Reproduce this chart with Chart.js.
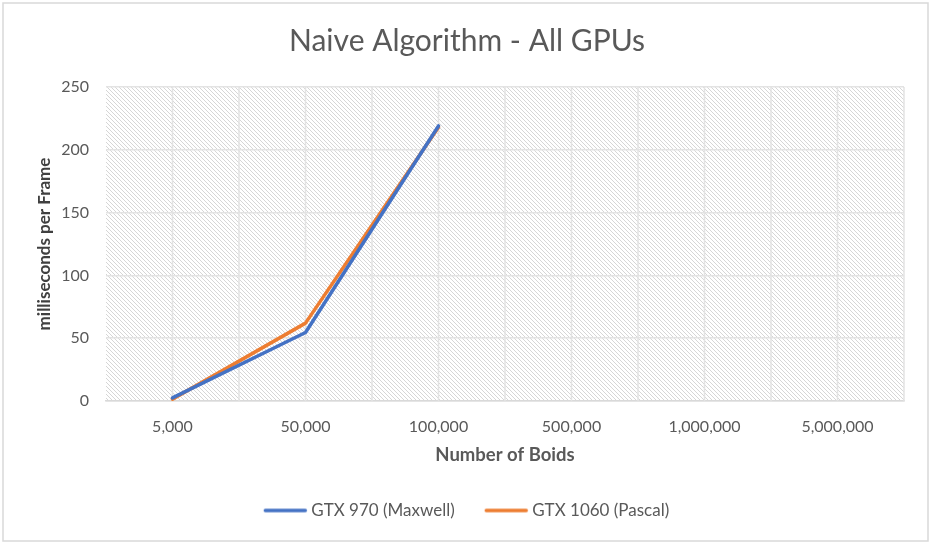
<!DOCTYPE html>
<html>
<head>
<meta charset="utf-8">
<script src="https://cdn.jsdelivr.net/npm/chart.js@4"></script>
<style>
html,body{margin:0;padding:0;background:#fff;}
#wrap{width:933px;height:548px;position:relative;}
</style>
</head>
<body>
<div id="wrap"><canvas id="c" width="933" height="548"></canvas></div>
<script>
const categories = ["5,000", "50,000", "100,000", "500,000", "1,000,000", "5,000,000"];
const gtx970 = [2.5, 54.5, 219, null, null, null];
const gtx1060 = [1.5, 62, 218, null, null, null];
const yTicks = [0, 50, 100, 150, 200, 250];

function makePattern(ctx) {
  const p = document.createElement('canvas');
  p.width = 4; p.height = 4;
  const g = p.getContext('2d');
  g.fillStyle = '#ffffff';
  g.fillRect(0, 0, 4, 4);
  g.fillStyle = '#d6d6d6';
  for (let i = 0; i < 4; i++) g.fillRect(i, i, 1, 1);
  return ctx.createPattern(p, 'repeat');
}

// legend sample: box width 38, image 58 wide centred on the box; line overhangs right by ~3.5px
function legendLine(color) {
  const c = document.createElement('canvas');
  c.width = 58; c.height = 8;
  const g = c.getContext('2d');
  g.strokeStyle = color;
  g.lineWidth = 3.5;
  g.lineCap = 'round';
  g.beginPath(); g.moveTo(10.5, 4); g.lineTo(50.5, 4); g.stroke();
  return c;
}

const bgPlugin = {
  id: 'bg',
  beforeDraw(chart) {
    const ctx = chart.ctx;
    ctx.save();
    ctx.fillStyle = '#fff';
    ctx.fillRect(0, 0, chart.width, chart.height);
    ctx.strokeStyle = '#d9d9d9';
    ctx.lineWidth = 1.5;
    ctx.strokeRect(3, 3, 925, 538);
    const a = chart.chartArea;
    ctx.fillStyle = makePattern(ctx);
    ctx.fillRect(a.left, a.top, a.right - a.left, a.bottom - a.top);
    ctx.restore();
  }
};

const font = "Lato, 'Open Sans', sans-serif";

new Chart(document.getElementById('c'), {
  type: 'line',
  data: {
    labels: categories,
    datasets: [
      { label: 'GTX 970 (Maxwell)', data: gtx970, borderColor: '#4472C4', backgroundColor: '#4472C4', borderWidth: 3.5, pointRadius: 0, pointStyle: legendLine('#4472C4'), borderCapStyle: 'round', borderJoinStyle: 'round', tension: 0 },
      { label: 'GTX 1060 (Pascal)', data: gtx1060, borderColor: '#ED7D31', backgroundColor: '#ED7D31', borderWidth: 3.5, pointRadius: 0, pointStyle: legendLine('#ED7D31'), borderCapStyle: 'round', borderJoinStyle: 'round', tension: 0 }
    ]
  },
  options: {
    responsive: false,
    animation: false,
    spanGaps: false,
    layout: { padding: { left: 25, right: 24, top: 0, bottom: 19 } },
    plugins: {
      title: {
        display: true,
        text: 'Naive Algorithm - All GPUs',
        color: '#595959',
        font: { family: font, size: 30, weight: 'normal' },
        padding: { top: 23, bottom: 28 }
      },
      legend: {
        position: 'bottom',
        labels: {
          color: '#595959',
          font: { family: font, size: 17 },
          usePointStyle: true,
          pointStyleWidth: 38,
          padding: 31
        }
      },
      tooltip: { enabled: false }
    },
    scales: {
      x: {
        offset: true,
        grid: { display: false, drawTicks: false },
        border: { display: true, color: '#d9d9d9', width: 1.5 },
        ticks: { color: '#595959', font: { family: font, size: 16 }, padding: 16, maxRotation: 0, autoSkip: false },
        title: { display: true, text: 'Number of Boids', color: '#595959', font: { family: font, size: 18.5, weight: 'bold' }, padding: { top: 0, bottom: 5 } },
        afterFit(scale) { scale.height = 70; }
      },
      y: {
        min: 0, max: 250,
        afterBuildTicks(scale) { scale.ticks = yTicks.map(v => ({ value: v })); },
        grid: { color: '#e3e3e3', lineWidth: 1.5, drawTicks: false },
        border: { display: false },
        ticks: { color: '#595959', font: { family: font, size: 16 }, padding: 17 },
        title: { display: true, text: 'milliseconds per Frame', color: '#404040', font: { family: font, size: 17, weight: 'bold' }, padding: { top: 9, bottom: 0 } },
        afterFit(scale) { scale.width = 81; }
      },
      yPad: {
        position: 'right',
        display: true,
        grid: { display: false, drawTicks: false },
        border: { display: false },
        ticks: { display: false },
        afterFit(scale) { scale.width = 5; }
      }
    }
  },
  plugins: [bgPlugin, {
    id: 'vgrid',
    beforeDatasetsDraw(chart) {
      const ctx = chart.ctx, a = chart.chartArea;
      const n = categories.length;
      const step = (a.right - a.left) / (n * 2);
      ctx.save();
      ctx.strokeStyle = '#e3e3e3';
      ctx.lineWidth = 1.5;
      for (let i = 1; i < n * 2; i++) {
        const x = a.left + step * i;
        ctx.beginPath(); ctx.moveTo(x, a.top); ctx.lineTo(x, a.bottom); ctx.stroke();
      }
      ctx.beginPath(); ctx.moveTo(a.right, a.top); ctx.lineTo(a.right, a.bottom); ctx.stroke();
      ctx.restore();
    }
  }]
});
</script>
</body>
</html>
